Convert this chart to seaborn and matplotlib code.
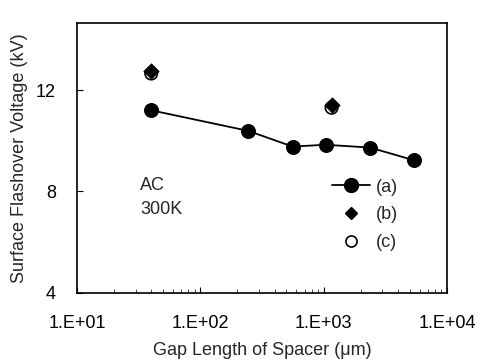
import matplotlib
matplotlib.use("Agg")
import matplotlib.pyplot as plt
from matplotlib.lines import Line2D
import seaborn as sns
import pandas as pd
import numpy as np

# data
gap_a = [40, 244, 560, 1040, 2380, 5400]
volt_a = [11.2, 10.39, 9.77, 9.84, 9.73, 9.23]
gap_b = [40, 1160]
volt_b = [12.75, 11.42]
gap_c = [40, 1160]
volt_c = [12.65, 11.30]
xticks = [10, 100, 1000, 10000]
xtick_labels = ["1.E+01", "1.E+02", "1.E+03", "1.E+04"]
yticks = [4, 8, 12]

sns.set_theme(style="ticks")
plt.rcParams['font.family'] = ['Liberation Sans', 'DejaVu Sans']

fig = plt.figure(figsize=(4.78, 3.62), dpi=100)
ax = fig.add_axes([0.161, 0.191, 0.774, 0.746])

df_a = pd.DataFrame({"x": gap_a, "y": volt_a})
df_b = pd.DataFrame({"x": gap_b, "y": volt_b})
df_c = pd.DataFrame({"x": gap_c, "y": volt_c})

sns.lineplot(data=df_a, x="x", y="y", ax=ax, color="black", lw=1.3,
             marker="o", markersize=10, markeredgecolor="black", zorder=3)
sns.scatterplot(data=df_b, x="x", y="y", ax=ax, marker="D", s=60,
                color="black", edgecolor="black", zorder=4)
sns.scatterplot(data=df_c, x="x", y="y", ax=ax, marker="o", s=80,
                facecolor="none", edgecolor="black", linewidth=1.2, zorder=5)

ax.set_xscale("log")
ax.set_xlim(10, 10000)
ax.set_ylim(4, 14.65)
ax.set_xticks(xticks)
ax.set_xticklabels(xtick_labels)
ax.set_yticks(yticks)
ax.tick_params(axis="both", direction="in", labelsize=13, length=4, width=0.8, colors="black")
ax.tick_params(axis="x", pad=16)
ax.tick_params(axis="y", pad=15)
ax.tick_params(axis="x", which="minor", direction="in", length=3, width=0.6)
for s in ax.spines.values():
    s.set_linewidth(1.2)
    s.set_color("black")
ax.set_xlabel("Gap Length of Spacer (\u03bcm)", fontsize=13, labelpad=7)
ax.set_ylabel("Surface Flashover Voltage (kV)", fontsize=13, labelpad=6)

ax.text(0.17, 0.43, "AC\n300K", transform=ax.transAxes, fontsize=13,
        va="top", ha="left", linespacing=1.55)

handles = [
    Line2D([], [], color="black", marker="o", markersize=10, lw=1.3),
    Line2D([], [], color="black", marker="D", markersize=6, lw=0),
    Line2D([], [], color="black", marker="o", markersize=8, lw=0,
           markerfacecolor="none", markeredgewidth=1.2),
]
ax.legend(handles, ["(a)", "(b)", "(c)"], loc="upper left",
          bbox_to_anchor=(0.67, 0.45), frameon=False, fontsize=13,
          handlelength=2.1, handletextpad=0.3, labelspacing=0.6,
          borderaxespad=0)

fig.savefig("out.png", dpi=100)
